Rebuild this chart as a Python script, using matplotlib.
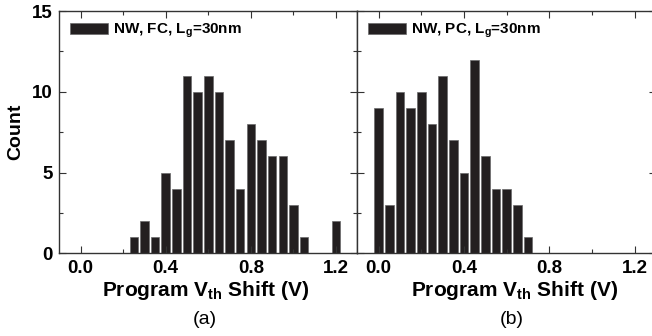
import matplotlib
matplotlib.use("Agg")
import matplotlib.pyplot as plt
from matplotlib.ticker import MultipleLocator, FormatStrFormatter

plt.rcParams['font.family'] = ['Liberation Sans', 'DejaVu Sans']

# bin centers (V) and counts
fc_shift = [0.25, 0.30, 0.35, 0.40, 0.45, 0.50, 0.55, 0.60, 0.65, 0.70,
            0.75, 0.80, 0.85, 0.90, 0.95, 1.00, 1.05, 1.20]
fc_count = [1, 2, 1, 5, 4, 11, 10, 11, 10, 7, 4, 8, 7, 6, 6, 3, 1, 2]

pc_shift = [0.00, 0.05, 0.10, 0.15, 0.20, 0.25, 0.30, 0.35, 0.40, 0.45,
            0.50, 0.55, 0.60, 0.65, 0.70]
pc_count = [9, 3, 10, 9, 10, 8, 11, 7, 5, 12, 6, 4, 4, 3, 1]

panels = [
    (fc_shift, fc_count, "NW, FC, L$_\\mathregular{g}$=30nm", "(a)"),
    (pc_shift, pc_count, "NW, PC, L$_\\mathregular{g}$=30nm", "(b)"),
]

fig = plt.figure(figsize=(6.52, 3.36), dpi=100)
ax_pos = [[0.091, 0.246, 0.457, 0.721], [0.548, 0.246, 0.458, 0.721]]
label_x = [0.489, 0.525]
tag_x = [0.314, 0.785]

for i, (x, y, lab, tag) in enumerate(panels):
    ax = fig.add_axes(ax_pos[i])
    ax.bar(x, y, width=0.04, color='#231f20', edgecolor='#6a6a6a', linewidth=0.5,
           label=lab)
    ax.set_xlim(-0.1, 1.3)
    ax.set_ylim(0, 15)
    ax.xaxis.set_major_locator(MultipleLocator(0.4))
    ax.xaxis.set_minor_locator(MultipleLocator(0.2))
    ax.yaxis.set_major_locator(MultipleLocator(5))
    ax.yaxis.set_minor_locator(MultipleLocator(2.5))
    ax.xaxis.set_major_formatter(FormatStrFormatter('%.1f'))
    ax.tick_params(which='both', direction='in', top=True, right=True,
                   color='#333333', width=0.8)
    ax.tick_params(which='major', length=5, labelsize=13.5, pad=5)
    ax.tick_params(which='minor', length=3)
    for lbl in ax.get_xticklabels() + ax.get_yticklabels():
        lbl.set_fontweight('bold')
    for s in ax.spines.values():
        s.set_color('#333333')
        s.set_linewidth(1.0)
    if i == 0:
        ax.set_ylabel("Count", fontsize=14, fontweight='bold', labelpad=5)
    else:
        ax.set_yticklabels([])
    ax.set_xlabel("Program V$_\\mathregular{th}$ Shift (V)", fontsize=15,
                  fontweight='bold')
    ax.xaxis.set_label_coords(label_x[i], -0.105)
    fig.text(tag_x[i], 1 - 320 / 336, tag, ha='center', va='center', fontsize=14)
    ax.legend(loc='upper left', frameon=False, handlelength=2.5,
              handleheight=0.8, handletextpad=0.3, borderaxespad=0.3,
              prop={'weight': 'bold', 'size': 11})

fig.savefig("out.png", dpi=100)
